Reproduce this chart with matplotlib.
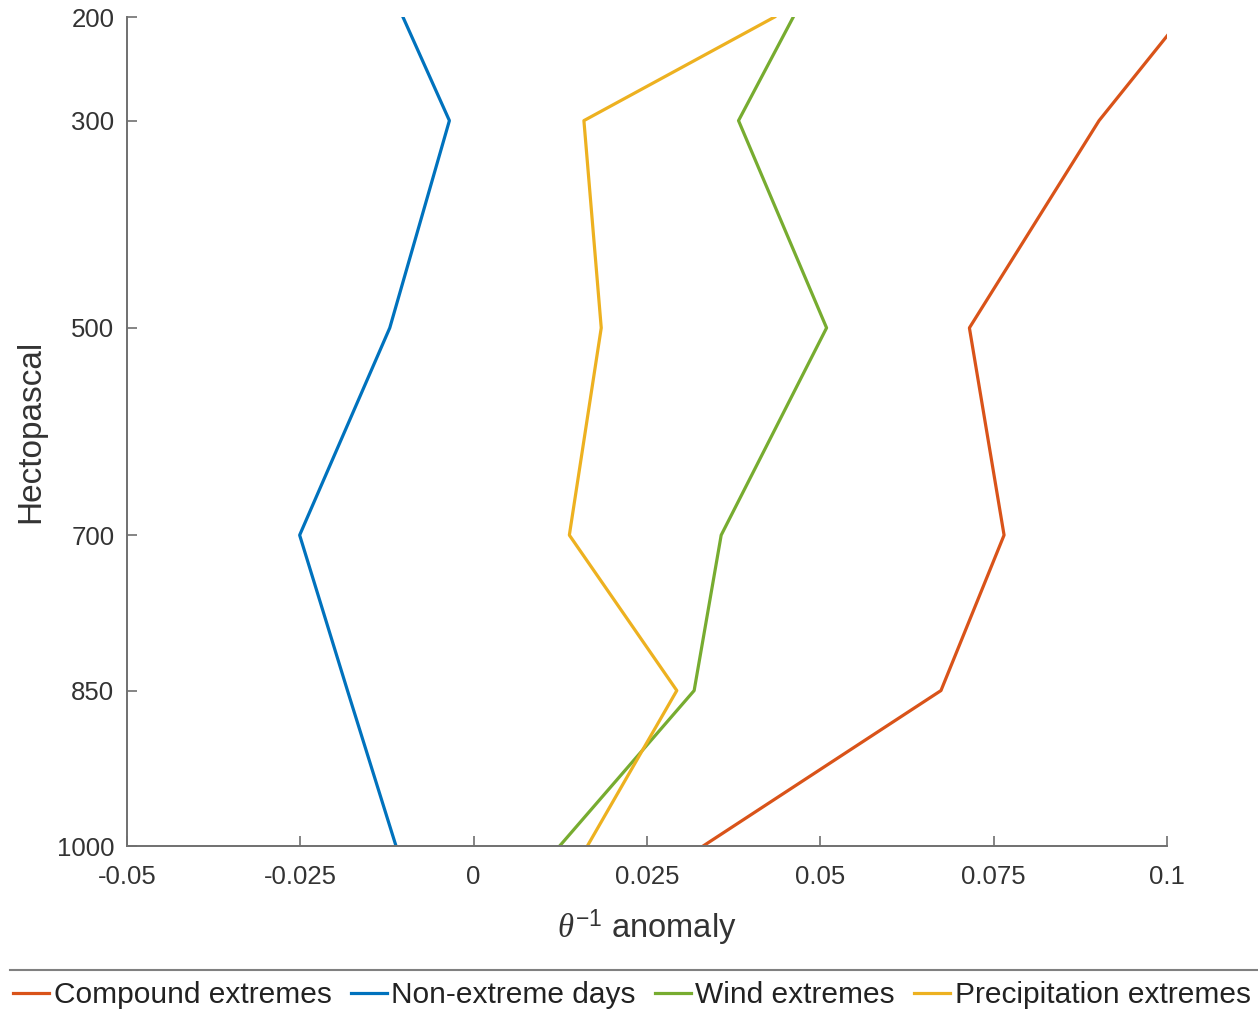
import matplotlib
matplotlib.use("Agg")
import matplotlib.pyplot as plt
from matplotlib.lines import Line2D

plt.rcParams['font.family'] = ['Liberation Sans', 'DejaVu Sans']
plt.rcParams['mathtext.fontset'] = 'custom'
plt.rcParams['mathtext.it'] = 'Liberation Serif:italic'
plt.rcParams['mathtext.rm'] = 'Liberation Sans'

pressure = [200, 300, 500, 700, 850, 1000]
compound = [0.1022, 0.0902, 0.0715, 0.0765, 0.0674, 0.0331]
non_extreme = [-0.0102, -0.0035, -0.0121, -0.0251, -0.0182, -0.0112]
wind = [0.0461, 0.0382, 0.0509, 0.0357, 0.0318, 0.0124]
precip = [0.0434, 0.0159, 0.0184, 0.0138, 0.0293, 0.0164]

xticks = [-0.05, -0.025, 0, 0.025, 0.05, 0.075, 0.1]
xticklabels = ["-0.05", "-0.025", "0", "0.025", "0.05", "0.075", "0.1"]

fig = plt.figure(figsize=(12.58, 10.11), dpi=100)
ax = fig.add_axes([127/1258, 1-846/1011, (1167-127)/1258, (846-17)/1011])

lw = 2.3
ax.plot(compound, pressure, color="#D95319", linewidth=lw, label="Compound extremes")
ax.plot(non_extreme, pressure, color="#0072BD", linewidth=lw, label="Non-extreme days")
ax.plot(wind, pressure, color="#77AC30", linewidth=lw, label="Wind extremes")
ax.plot(precip, pressure, color="#EDB120", linewidth=lw, label="Precipitation extremes")

ax.set_xlim(-0.05, 0.1)
ax.set_ylim(1000, 200)
ax.set_xticks(xticks)
ax.set_xticklabels(xticklabels)
ax.set_yticks(pressure)

for s in ["top", "right"]:
    ax.spines[s].set_visible(False)
for s in ["left", "bottom"]:
    ax.spines[s].set_color("#707070")
    ax.spines[s].set_linewidth(1.4)

ax.tick_params(direction="in", length=7, width=1.2, color="#707070",
               labelsize=18.5, labelcolor="#333333")
ax.tick_params(axis="x", pad=14)
ax.tick_params(axis="y", pad=9)

ax.set_xlabel(r"$\mathit{\theta}^{\mathregular{-1}}$ anomaly", fontsize=23.5, color="#333333")
ax.xaxis.set_label_coords(0.5, -0.075)
ax.set_ylabel("Hectopascal", fontsize=24, color="#333333")
ax.yaxis.set_label_coords(-0.078, 0.5)

fig.add_artist(Line2D([10/1258, 1.0], [1-970/1011, 1-970/1011],
                      transform=fig.transFigure, color="#808080", linewidth=1.5))
fig.legend(loc="center", bbox_to_anchor=(632/1258, 1-995/1011), ncol=4, frameon=False,
           fontsize=21.5, handlelength=1.2, handletextpad=0.15, columnspacing=0.65,
           labelcolor="#222222", borderaxespad=0)

fig.savefig("out.png", dpi=100)
